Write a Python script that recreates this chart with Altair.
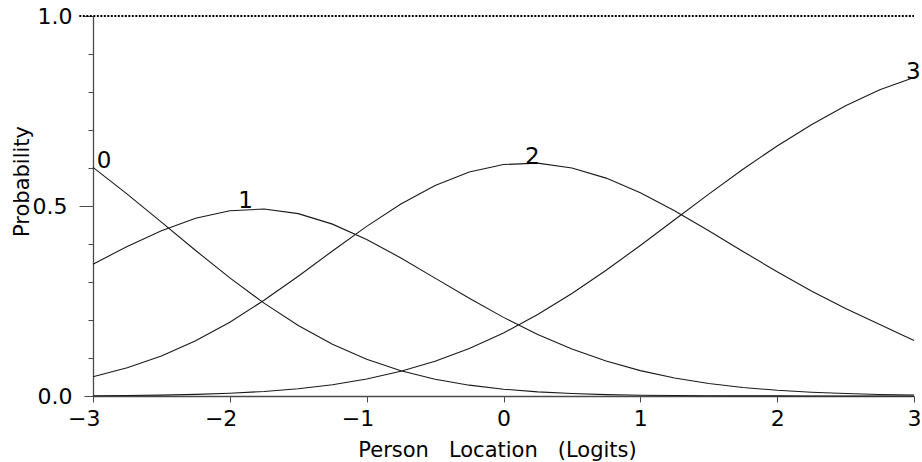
import altair as alt
import pandas as pd

# Person location (logits) at which the category probabilities are plotted
theta = [-3.0, -2.75, -2.5, -2.25, -2.0, -1.75, -1.5, -1.25, -1.0, -0.75, -0.5, -0.25,
         0.0, 0.25, 0.5, 0.75, 1.0, 1.25, 1.5, 1.75, 2.0, 2.25, 2.5, 2.75, 3.0]

# Probability of responding in each category
p0 = [0.6015, 0.5312, 0.4574, 0.3829, 0.3109, 0.2443, 0.1856, 0.1362, 0.0967, 0.0664,
      0.0441, 0.0285, 0.0179, 0.0109, 0.0065, 0.0037, 0.0021, 0.0012, 0.0006, 0.0003,
      0.0002, 0.0001, 0.0, 0.0, 0.0]
p1 = [0.3470, 0.3935, 0.4351, 0.4677, 0.4876, 0.4920, 0.4799, 0.4523, 0.4121, 0.3633,
      0.3102, 0.2570, 0.2069, 0.1620, 0.1236, 0.0920, 0.0668, 0.0474, 0.0330, 0.0225,
      0.0150, 0.0099, 0.0064, 0.0041, 0.0026]
p2 = [0.0509, 0.0741, 0.1052, 0.1452, 0.1943, 0.2518, 0.3153, 0.3816, 0.4465, 0.5053,
      0.5541, 0.5894, 0.6092, 0.6127, 0.6002, 0.5734, 0.5348, 0.4876, 0.4351, 0.3805,
      0.3268, 0.2761, 0.2300, 0.1880, 0.1460]
p3 = [0.0007, 0.0013, 0.0024, 0.0042, 0.0072, 0.0119, 0.0192, 0.0298, 0.0448, 0.0651,
      0.0916, 0.1251, 0.1660, 0.2144, 0.2697, 0.3308, 0.3962, 0.4638, 0.5314, 0.5967,
      0.6580, 0.7139, 0.7636, 0.8060, 0.8380]

categories = ["0", "1", "2", "3"]
# where each category number is written next to its curve
label_x = [-2.92, -1.885, 0.21, 2.995]
label_y = [0.60, 0.495, 0.61, 0.833]

x_ticks = [-3, -2, -1, 0, 1, 2, 3]
y_ticks = [0.0, 0.1, 0.2, 0.3, 0.4, 0.5, 0.6, 0.7, 0.8, 0.9, 1.0]

FONT = "DejaVu Sans"
INK = "#1a1a1a"
AXIS_INK = "#4a4a4a"

rows = []
for cat, series in zip(categories, [p0, p1, p2, p3]):
    for t, p in zip(theta, series):
        rows.append({"theta": t, "prob": p, "category": cat})
curves_df = pd.DataFrame(rows)
labels_df = pd.DataFrame({"category": categories, "x": label_x, "y": label_y})
top_df = pd.DataFrame({"y": [1.0], "x": [-3.1], "x2": [3.0]})

x_scale = alt.Scale(domain=[-3, 3], nice=False, zero=False)
y_scale = alt.Scale(domain=[0, 1], nice=False, zero=True)

x_axis = alt.Axis(
    values=x_ticks, format="d", grid=False,
    title="Person\u00a0\u00a0\u00a0Location\u00a0\u00a0\u00a0(Logits)",
    titleFont=FONT, titleFontSize=21, titleFontWeight="normal", titleColor="black",
    titleX=404, titleY=60, titleAlign="center", titleBaseline="alphabetic",
    labelFont=FONT, labelFontSize=22, labelColor="black",
    labelAlign="right", labelOffset=7, labelPadding=6, labelFlush=False, labelOverlap=False,
    tickSize=6, tickColor=AXIS_INK, tickWidth=1,
    domainColor=AXIS_INK, domainWidth=1.3,
)

# major ticks at 0, 0.5 and 1 are longer than the tenths
major_tick = {
    "condition": [
        {"test": "abs(datum.value - 0.5) < 0.001", "value": 14},
        {"test": "abs(datum.value) < 0.001 || abs(datum.value - 1) < 0.001", "value": 9},
    ],
    "value": 5,
}

y_axis = alt.Axis(
    values=y_ticks, grid=False,
    labelExpr="(abs(datum.value) < 0.001 || abs(datum.value - 0.5) < 0.001 || abs(datum.value - 1) < 0.001) ? format(datum.value, '.1f') : ''",
    title="Probability",
    titleFont=FONT, titleFontSize=21, titleFontWeight="normal", titleColor="black",
    titleAngle=270, titleX=-65, titleY=165, titleAlign="center", titleBaseline="alphabetic",
    labelFont=FONT, labelFontSize=22, labelColor="black", labelPadding=12,
    labelBaseline="middle", labelFlush=False, labelOverlap=False,
    tickSize=major_tick,
    tickColor=AXIS_INK, tickWidth=1,
    domainColor=AXIS_INK, domainWidth=1.3,
)

curves = alt.Chart(curves_df).mark_line(color=INK, strokeWidth=1.1).encode(
    x=alt.X("theta:Q", scale=x_scale, axis=x_axis),
    y=alt.Y("prob:Q", scale=y_scale, axis=y_axis),
    detail="category:N",
)

top_line = alt.Chart(top_df).mark_rule(
    color="black", strokeWidth=2, strokeDash=[2, 1.5], clip=False
).encode(
    x=alt.X("x:Q", scale=x_scale, axis=x_axis),
    x2="x2:Q",
    y=alt.Y("y:Q", scale=y_scale, axis=y_axis),
)

cat_text = alt.Chart(labels_df).mark_text(
    font=FONT, fontSize=23, color="black", align="center", baseline="alphabetic"
).encode(
    x=alt.X("x:Q", scale=x_scale, axis=x_axis),
    y=alt.Y("y:Q", scale=y_scale, axis=y_axis),
    text="category:N",
)

chart = alt.layer(curves, top_line, cat_text).properties(
    width=821, height=380,
    autosize=alt.AutoSizeParams(type="none"),
    padding={"left": 93, "top": 16, "right": 8, "bottom": 66},
    background="white",
).configure_view(stroke=None)

chart.save("out.html", embed_options={"renderer": "svg", "actions": False})
